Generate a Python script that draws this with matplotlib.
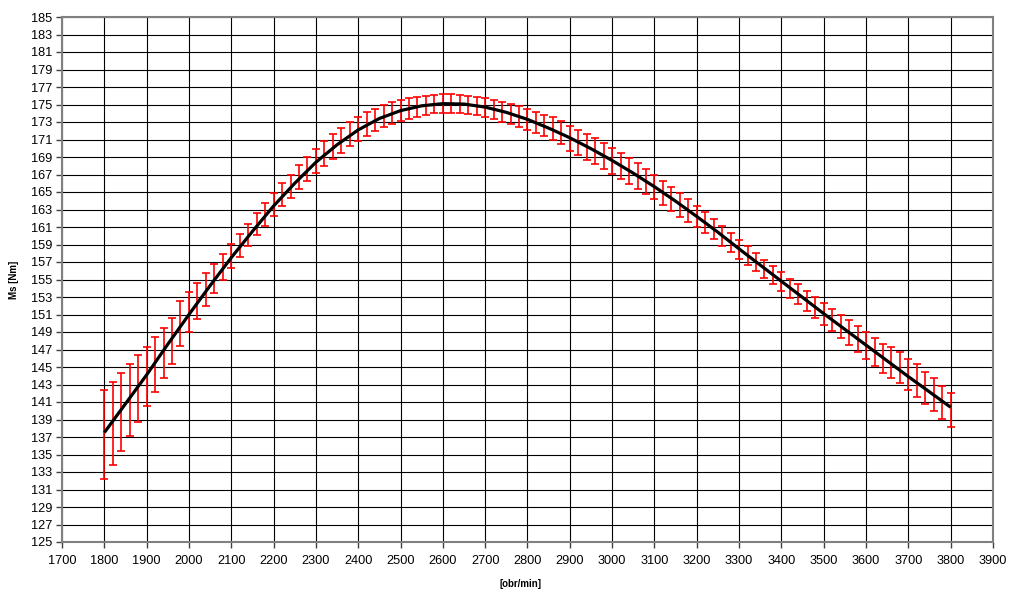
import numpy as np
import matplotlib
matplotlib.use("Agg")
import matplotlib.pyplot as plt

# ---- data ----
rpm = list(range(1800, 3801, 20))

ms_high = [142.4, 143.3, 144.35, 145.3, 146.4, 147.3, 148.4, 149.5, 150.6, 152.5,
           153.6, 154.6, 155.7, 156.8, 157.9, 159.05, 160.2, 161.4, 162.6, 163.75,
           164.85, 166.0, 167.0, 168.1, 169.05, 169.95, 170.85, 171.65, 172.35, 173.0,
           173.55, 174.1, 174.5, 175.0, 175.3, 175.55, 175.7, 175.9, 176.0, 176.1,
           176.15, 176.15, 176.1, 176.0, 175.85, 175.7, 175.5, 175.3, 175.05, 174.8,
           174.5, 174.2, 173.85, 173.55, 173.1, 172.6, 172.1, 171.65, 171.15, 170.6,
           170.05, 169.45, 168.9, 168.3, 167.65, 167.0, 166.3, 165.6, 164.9, 164.15,
           163.45, 162.7, 161.95, 161.15, 160.35, 159.55, 158.85, 158.05, 157.25, 156.55,
           155.85, 155.1, 154.45, 153.7, 153.05, 152.35, 151.65, 151.0, 150.35, 149.7,
           149.05, 148.35, 147.65, 147.3, 146.7, 145.95, 145.3, 144.45, 143.8, 142.85,
           142.05]

ms_low = [132.2, 133.8, 135.4, 137.1, 138.75, 140.5, 142.1, 143.8, 145.4, 147.4,
          149.0, 150.5, 152.0, 153.5, 154.9, 156.3, 157.6, 158.85, 160.05, 161.15,
          162.25, 163.35, 164.35, 165.4, 166.3, 167.15, 168.0, 168.8, 169.5, 170.3,
          170.85, 171.45, 171.95, 172.4, 172.75, 173.1, 173.4, 173.6, 173.85, 174.0,
          174.05, 174.05, 174.05, 173.95, 173.75, 173.55, 173.3, 173.05, 172.75, 172.45,
          172.1, 171.8, 171.4, 171.0, 170.5, 169.7, 169.2, 168.7, 168.2, 167.6,
          167.05, 166.5, 165.9, 165.35, 164.75, 164.15, 163.5, 162.85, 162.2, 161.55,
          160.95, 160.3, 159.6, 158.85, 158.15, 157.4, 156.65, 155.95, 155.15, 154.45,
          153.7, 152.9, 152.15, 151.4, 150.55, 149.8, 149.1, 148.3, 147.5, 146.7,
          145.9, 145.1, 144.3, 143.8, 143.15, 142.35, 141.6, 140.75, 140.0, 139.1,
          138.2]

curve_rpm = list(range(1800, 3801, 50))
curve_ms = [137.5, 140.8, 144.1, 147.6, 151.0, 154.3, 157.5, 160.5, 163.4, 166.0,
            168.4, 170.4, 172.1, 173.4, 174.3, 174.85, 175.1, 175.05, 174.7, 174.1,
            173.3, 172.3, 171.2, 169.95, 168.6, 167.15, 165.6, 163.95, 162.2, 160.4,
            158.5, 156.65, 154.8, 152.95, 151.1, 149.3, 147.5, 145.7, 143.9, 142.15,
            140.4]

x_ticks = list(range(1700, 3901, 100))
y_ticks = list(range(125, 186, 2))

# ---- figure ----
plt.rcParams['font.family'] = ['Liberation Sans', 'DejaVu Sans']
W, H = 1009, 589
fig = plt.figure(figsize=(W / 100, H / 100), dpi=100)
ax = fig.add_axes([62 / W, 1 - 542 / H, (993 - 62) / W, (542 - 17) / H])

x = np.array(rpm, dtype=float)
hi = np.array(ms_high)
lo = np.array(ms_low)
mid = (hi + lo) / 2
ax.errorbar(x, mid, yerr=[mid - lo, hi - mid], fmt='none', ecolor='#ff0000',
            elinewidth=1.2, capsize=3, capthick=1.2, zorder=3)
ax.plot(curve_rpm, curve_ms, color='black', lw=2.3, zorder=4,
        solid_capstyle='butt')

ax.set_xlim(1700, 3900)
ax.set_ylim(125, 185)
ax.set_xticks(x_ticks)
ax.set_yticks(y_ticks)
ax.grid(True, color='black', lw=0.8)
ax.set_axisbelow(True)
for s in ax.spines.values():
    s.set_color('#808080')
    s.set_linewidth(1.5)
ax.tick_params(axis='both', direction='out', length=4, width=1, color='#404040',
               labelsize=9.2, labelcolor='black', pad=3)
ax.tick_params(axis='x', pad=5)

fig.text(14 / W, 1 - 280 / H, 'Ms [Nm]', rotation=90, ha='center', va='center',
         fontsize=7, fontweight='bold')
fig.text(521 / W, 1 - 584 / H, '[obr/min]', ha='center', va='center',
         fontsize=7, fontweight='bold')

fig.savefig('out.png', dpi=100)
